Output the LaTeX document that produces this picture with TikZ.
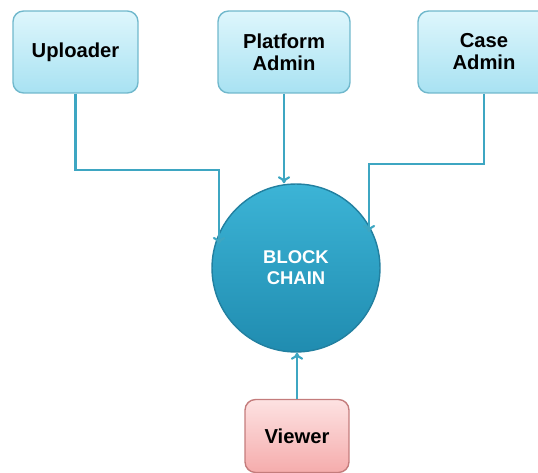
\documentclass[tikz,border=0pt]{standalone}
\usepackage{fontspec}
\setmainfont{Liberation Sans}
\usetikzlibrary{arrows.meta}

\definecolor{boxtop}{RGB}{222,246,252}
\definecolor{boxbot}{RGB}{168,226,242}
\definecolor{boxline}{RGB}{112,184,204}
\definecolor{balltop}{RGB}{60,180,214}
\definecolor{ballbot}{RGB}{32,140,176}
\definecolor{ballline}{RGB}{34,128,160}
\definecolor{viewtop}{RGB}{253,226,226}
\definecolor{viewbot}{RGB}{245,172,172}
\definecolor{viewline}{RGB}{196,124,124}
\definecolor{linkcol}{RGB}{62,166,194}

\begin{document}
\begin{tikzpicture}[x=0.02cm, y=-0.02cm,
    role/.style={draw=boxline, thick, rounded corners=6pt, top color=boxtop, bottom color=boxbot,
        minimum width=2.64cm, minimum height=1.64cm, align=center,
        font=\fontsize{11.5}{12.5}\selectfont\bfseries},
    chainball/.style={circle, draw=ballline, thick, top color=balltop, bottom color=ballbot,
        minimum size=3.36cm, align=center, text=white,
        font=\fontsize{10.5}{12}\selectfont\bfseries},
    viewbox/.style={draw=viewline, thick, rounded corners=6pt, top color=viewtop, bottom color=viewbot,
        minimum width=2.08cm, minimum height=1.46cm,
        font=\fontsize{11.5}{12.5}\selectfont\bfseries},
    link/.style={draw=linkcol, line width=1.2pt, -{To[length=4pt,width=7pt]}}]
    \useasboundingbox (0,0) rectangle (538,473);

    % roles on top
    \node[role, minimum width=2.5cm] (up) at (75.5, 52) {Uploader};
    \node[role] (pa) at (284, 52) {Platform\\Admin};
    \node[role] (ca) at (484, 52) {Case\\Admin};

    % the chain
    \node[chainball] (chain) at (296, 268) {BLOCK\\CHAIN};

    % viewer below
    \node[viewbox] (view) at (297, 436) {Viewer};

    \coordinate (upturn) at (219, 170);
    \coordinate (upin) at (219, 244);
    \coordinate (caturn) at (369, 164);
    \coordinate (cain) at (369, 232);

    \draw[link] (up.south) |- (upturn) -- (upin);
    \draw[link] (pa.south) -- (pa.south |- chain.north);
    \draw[link] (ca.south) |- (caturn) -- (cain);
    \draw[link] (view.north) -- (view.north |- chain.south);

\end{tikzpicture}
\end{document}
